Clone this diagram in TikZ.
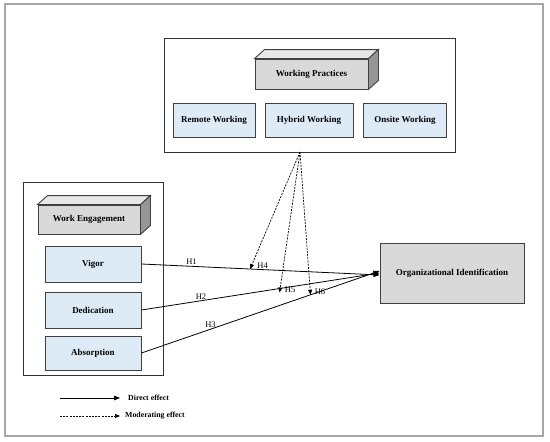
\documentclass[tikz,border=0pt]{standalone}
\usepackage{fontspec}
\setmainfont{Liberation Serif}
\usetikzlibrary{arrows.meta}
\definecolor{boxblue}{RGB}{221,235,247}
\definecolor{boxgray}{RGB}{217,217,217}
\definecolor{sidegray}{RGB}{150,150,150}
\tikzset{
	frame/.style={draw=black!80, line width=0.8pt, inner sep=0pt},
	item/.style={draw=black!75, fill=boxblue, line width=0.9pt, inner sep=0pt,
		font=\bfseries\fontsize{9}{10}\selectfont},
	block/.style={draw=black!75, fill=boxgray, line width=0.9pt, inner sep=0pt,
		font=\bfseries\fontsize{9}{10}\selectfont},
	direct/.style={line width=0.8pt, -{Triangle[length=6pt,width=4.5pt]}},
	moder/.style={line width=0.7pt, dash pattern=on 2pt off 1.2pt, -{Triangle[length=5pt,width=4pt]}},
	hyp/.style={font=\fontsize{8.5}{10}\selectfont, inner sep=1pt},
	legend/.style={font=\bfseries\fontsize{7.8}{9}\selectfont, anchor=west, inner sep=0pt}
}
\begin{document}
\begin{tikzpicture}[x=1pt, y=-1pt]
	\useasboundingbox (0,0) rectangle (550,442);
	\draw[gray!70, line width=1.2pt] (5,4) rectangle (543,436);
	% working practices
	\node[frame, minimum width=291pt, minimum height=114pt] (wpframe) at (309.5,95) {};
	\node[block, minimum width=113pt, minimum height=30pt] (wp) at (311.5,74) {Working Practices};
	\draw[black!75, line width=0.9pt, fill=boxgray!60] (wp.north west) -- ++(10,-9) -- ([shift={(10,-9)}]wp.north east) -- (wp.north east) -- cycle;
	\draw[black!75, line width=0.9pt, fill=sidegray] (wp.north east) -- ([shift={(10,-9)}]wp.north east) -- ([shift={(10,-9)}]wp.south east) -- (wp.south east) -- cycle;
	\node[item, minimum width=82pt, minimum height=34pt] (remote) at (214,120) {Remote Working};
	\node[item, minimum width=88pt, minimum height=34pt] (hybrid) at (309,120) {Hybrid Working};
	\node[item, minimum width=83pt, minimum height=34pt] (onsite) at (405,120) {Onsite Working};
	% work engagement
	\node[frame, minimum width=140pt, minimum height=193pt] (weframe) at (93,278.5) {};
	\node[block, minimum width=102pt, minimum height=29pt] (we) at (89,219.5) {Work Engagement};
	\draw[black!75, line width=0.9pt, fill=boxgray!60] (we.north west) -- ++(10,-9) -- ([shift={(10,-9)}]we.north east) -- (we.north east) -- cycle;
	\draw[black!75, line width=0.9pt, fill=sidegray] (we.north east) -- ([shift={(10,-9)}]we.north east) -- ([shift={(10,-9)}]we.south east) -- (we.south east) -- cycle;
	\node[item, minimum width=96pt, minimum height=36pt] (vigor) at (93,264) {Vigor};
	\node[item, minimum width=96pt, minimum height=36pt] (dedic) at (93,310) {Dedication};
	\node[item, minimum width=96pt, minimum height=34pt] (absorp) at (93,353) {Absorption};
	% outcome
	\node[block, minimum width=144pt, minimum height=60pt] (orgid) at (452,273) {Organizational Identification};
	% direct effects
	\draw[direct] (vigor.east) -- node[hyp, above, pos=0.21] {H1} coordinate[pos=0.456] (m4) ([yshift=-2pt]orgid.west);
	\draw[direct] (dedic.east) -- node[hyp, above, pos=0.25] {H2} coordinate[pos=0.58] (m5) (orgid.west);
	\draw[direct] (absorp.east) -- node[hyp, above, pos=0.29] {H3} coordinate[pos=0.71] (m6) ([yshift=2pt]orgid.west);
	% moderating effects
	\coordinate (src) at (300,152);
	\draw[moder] (src) -- (m4) node[hyp, anchor=south west, xshift=6pt, yshift=-1pt] {H4};
	\draw[moder] (src) -- ([yshift=-4pt]m5) node[hyp, anchor=south west, xshift=4pt, yshift=-1pt] {H5};
	\draw[moder] (src) -- (m6) node[hyp, anchor=south west, xshift=3pt, yshift=-1pt] {H6};
	% legend
	\coordinate (l1) at (60,398);
	\coordinate (l2) at (60,416);
	\node[legend] (ldirect) at (128,398) {Direct effect};
	\node[legend] (lmoder) at (125,416) {Moderating effect};
	\draw[direct] (l1) -- ([xshift=-8pt]ldirect.west);
	\draw[moder] (l2) -- ([xshift=-5pt]lmoder.west);
\end{tikzpicture}
\end{document}
